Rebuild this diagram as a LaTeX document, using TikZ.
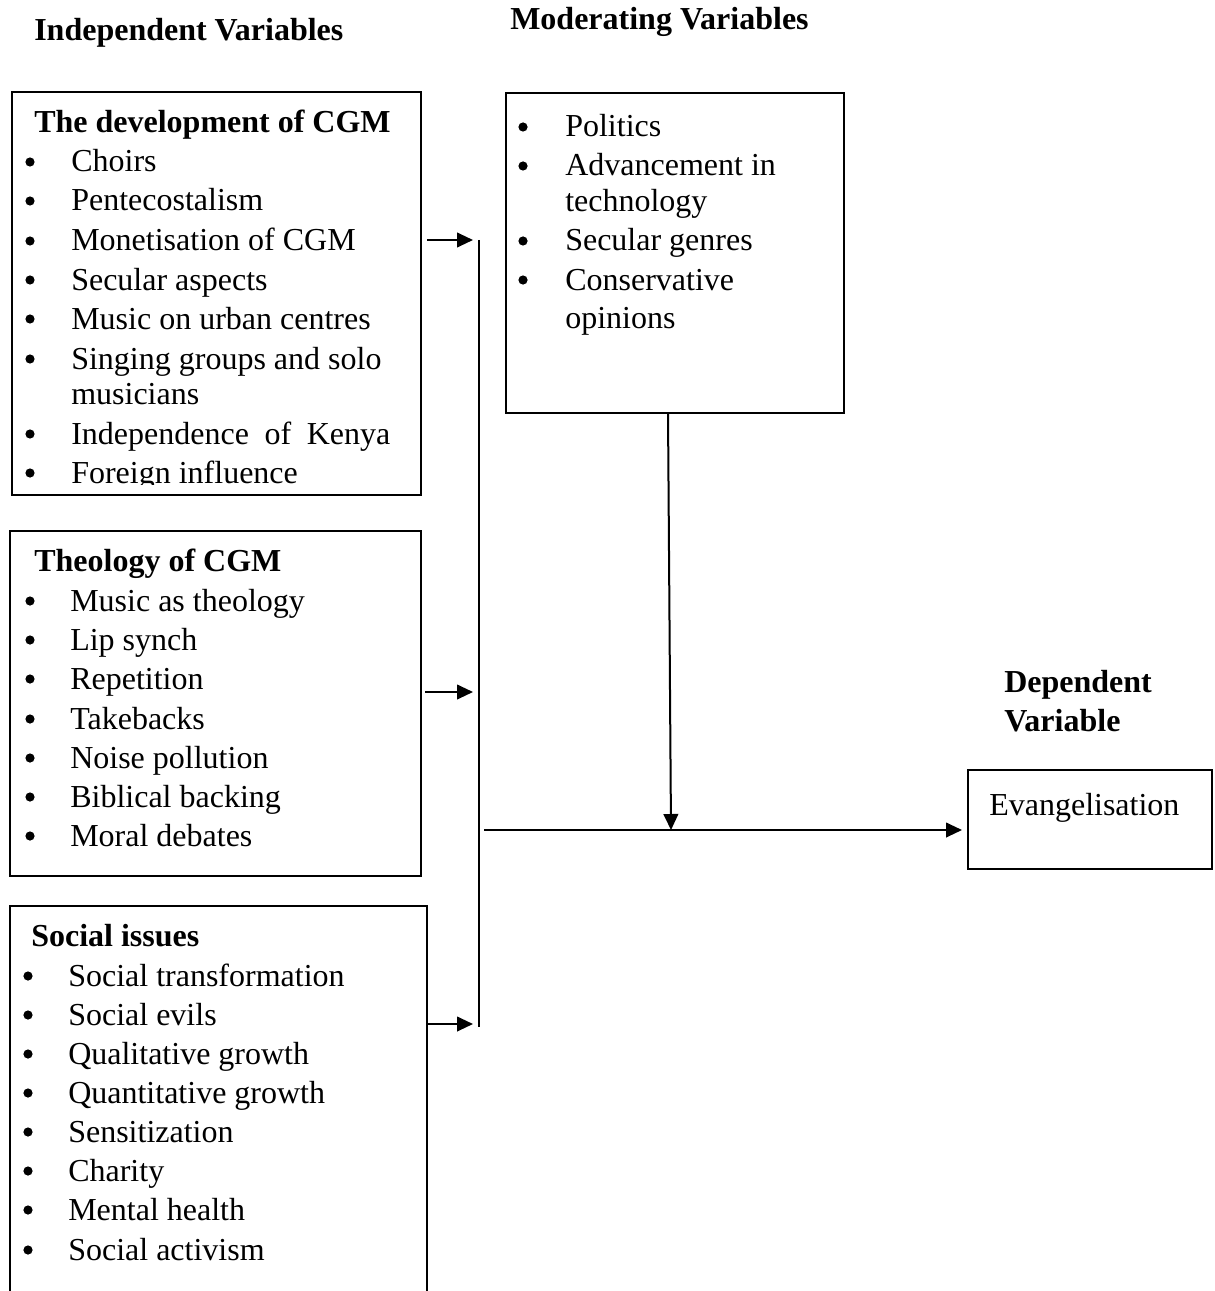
\documentclass[tikz,border=0pt]{standalone}
\usepackage{fontspec}
\setmainfont{Liberation Serif}
\usetikzlibrary{arrows.meta,fit}
\begin{document}
\begin{tikzpicture}[x=0.75pt,y=-0.75pt,
  font=\fontsize{24}{29}\selectfont,
  boxline/.style={draw,line width=1.5pt,inner sep=0pt},
  item/.style={anchor=base west,inner sep=0pt},
  bul/.style={circle,fill,inner sep=0pt,minimum size=6.9pt},
  head/.style={anchor=base west,inner sep=0pt,font=\fontsize{24}{29}\selectfont\bfseries},
  conn/.style={line width=1.5pt},
  arr/.style={line width=1.5pt,-{Triangle[length=12pt,width=11pt]}}]
\useasboundingbox (0,0) rectangle (1214,1291);

% headings
\node[head] (hind) at (34,41) {Independent Variables};
\node[head] (hmod) at (510,30) {Moderating Variables};
\node[head] (hdep1) at (1004,692) {Dependent};
\node[head] (hdep2) at (1004,731) {Variable};

% boxes
\node[boxline,fit={(12,92) (421,495)}] (b1) {};
\node[boxline,fit={(10,531) (421,876)}] (b2) {};
\node[inner sep=0pt,fit={(10,906) (427,1291)}] (b3) {};
\draw[line width=1.5pt] (b3.south west) -- (b3.north west) -- (b3.north east) -- (b3.south east);
\node[boxline,fit={(506,93) (844,413)}] (b4) {};
\node[boxline,fit={(968,770) (1212,869)}] (b5) {};

% box 1
\node[head] (t1) at (34,133) {The development of CGM};
\foreach \y/\txt [count=\i] in {172/Choirs,211/Pentecostalism,251/Monetisation of CGM,290/Secular aspects,329/Music on urban centres,369/Singing groups and solo}{
  \node[bul] (p1b\i) at (30,\y-10) {};
  \node[item] (p1\i) at (71,\y) {\txt};
}
\node[item] (p1m) at (71,404) {musicians};
\node[bul] (p1b7) at (30,434) {};
\node[item] (p17) at (71,444) {\makebox[239.25pt][s]{Independence of Kenya}};
\begin{scope}
\clip (0,0) rectangle (421,484.5);
\node[bul] (p1b8) at (30,473) {};
\node[item] (p18) at (71,483) {Foreign influence};
\end{scope}

% box 2
\node[head] (t2) at (34,571) {Theology of CGM};
\foreach \y/\txt [count=\i] in {611/Music as theology,650/Lip synch,689/Repetition,729/Takebacks,768/Noise pollution,807/Biblical backing,846/Moral debates}{
  \node[bul] (p2b\i) at (30,\y-10) {};
  \node[item] (p2\i) at (70,\y) {\txt};
}

% box 3
\node[head] (t3) at (31,946) {Social issues};
\foreach \y/\txt [count=\i] in {986/Social transformation,1025/Social evils,1064/Qualitative growth,1103/Quantitative growth,1142/Sensitization,1181/Charity,1220/Mental health,1260/Social activism}{
  \node[bul] (p3b\i) at (28,\y-10) {};
  \node[item] (p3\i) at (68,\y) {\txt};
}

% box 4
\foreach \y/\txt [count=\i] in {137/Politics,176/Advancement in,251/Secular genres,290/Conservative}{
  \node[bul] (p4b\i) at (523,\y-10) {};
  \node[item] (p4\i) at (565,\y) {\txt};
}
\node[item] (p4x) at (565,212) {technology};
\node[item] (p4y) at (565,328) {opinions};

% box 5
\node[item] (ev) at (989,815) {Evangelisation};

% connectors
\coordinate (v1) at (479,240);
\coordinate (v2) at (479,1027);
\coordinate (a2) at (479,692);
\coordinate (a3) at (479,1024);
\coordinate (h1) at (484,830);
\coordinate (m1) at (668,413);
\coordinate (m2) at (671,830);
\draw[conn] (v1) -- (v2);
\draw[arr] ([xshift=3.75pt]b1.east |- v1) -- ([xshift=-4.5pt]v1);
\draw[arr] ([xshift=2.25pt]b2.east |- a2) -- ([xshift=-4.5pt]a2);
\draw[arr] (b3.east |- a3) -- ([xshift=-4.5pt]a3);
\draw[arr] (m1) -- (m2);
\draw[arr,shorten >=3.75pt] (h1) -- (b5.west |- h1);
\end{tikzpicture}
\end{document}
